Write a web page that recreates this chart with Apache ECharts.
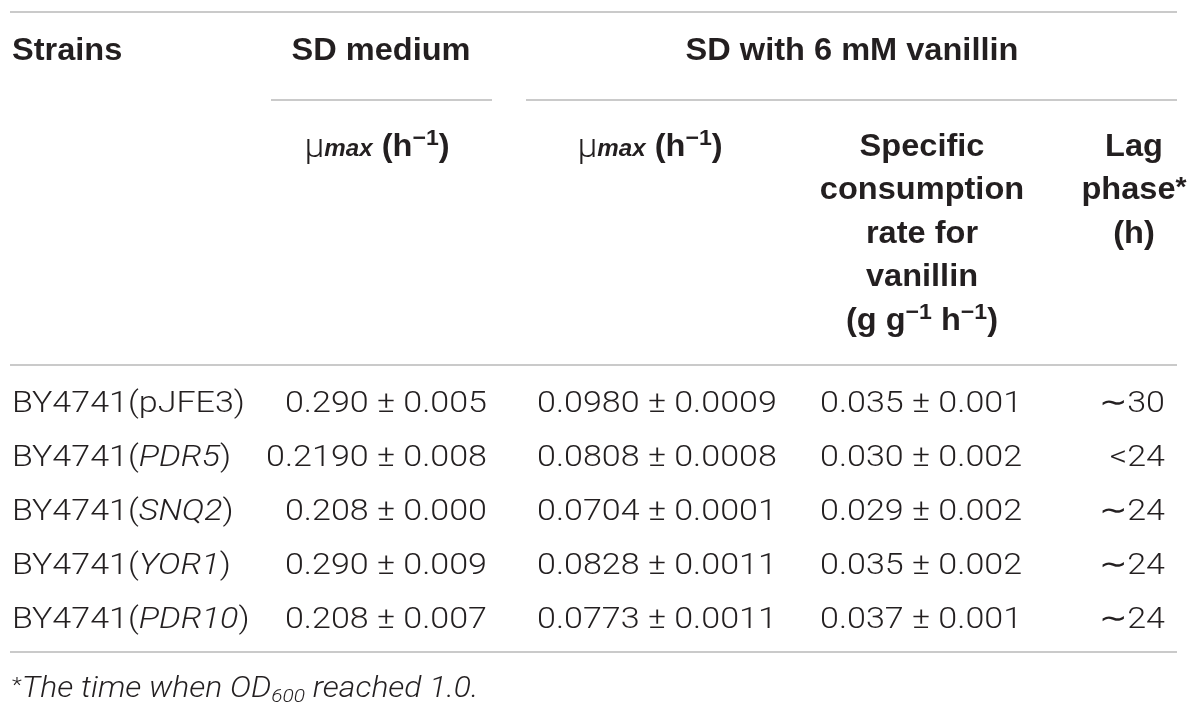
<!DOCTYPE html>
<html><head><meta charset="utf-8">
<script src="https://cdn.jsdelivr.net/npm/echarts@6/dist/echarts.min.js"></script>
<style>html,body{margin:0;padding:0;background:#fff}#c{width:1200px;height:721px}</style>
</head><body><div id="c"></div>
<script>
// ---------- DATA ----------
const strainBase = 'BY4741';
const strainGenes = ['pJFE3', 'PDR5', 'SNQ2', 'YOR1', 'PDR10'];
const geneItalic = [false, true, true, true, true];
const sdMuMax = ['0.290', '0.2190', '0.208', '0.290', '0.208'];
const sdMuMaxErr = ['0.005', '0.008', '0.000', '0.009', '0.007'];
const vanMuMax = ['0.0980', '0.0808', '0.0704', '0.0828', '0.0773'];
const vanMuMaxErr = ['0.0009', '0.0008', '0.0001', '0.0011', '0.0011'];
const vanRate = ['0.035', '0.030', '0.029', '0.035', '0.037'];
const vanRateErr = ['0.001', '0.002', '0.002', '0.002', '0.001'];
const lagPhase = ['\u223C30', '<24', '\u223C24', '\u223C24', '\u223C24'];
const groupHeaders = ['Strains', 'SD medium', 'SD with 6 mM vanillin'];
const rateHeaderLines = ['Specific', 'consumption', 'rate for', 'vanillin'];
const lagHeaderLines = ['Lag', 'phase{ast|*}', '(h)'];
const footnoteParts = ['*', 'The time when OD', '600', ' reached 1.0.'];

// ---------- LAYOUT / STYLE ----------
const W = 1200, H = 721;
const bodyFont = 'Roboto, "Liberation Sans", sans-serif';
const headFont = '"Liberation Sans", Arial, sans-serif';
const ink = '#231f20';
const ruleColor = '#b8b8b8';
const bodySize = 30, headSize = 31, footSize = 29;
const bodySX = 1.135, headSX = 1.05, footSX = 1.1;
const colX = { strain: 12, sd: 487, vanMu: 537, rate: 820, lag: 1165 };
const headX = { strains: 12, sd: 381, van: 852, sdMu: 377, vanMu: 650, rate: 922, lag: 1134 };
const rowY0 = 404, rowStep = 54;
const headY1 = 51, headY2 = 147, headStep = 43.6;
const footY = 690;
const rules = [
  { x1: 10, x2: 1177, y: 12 },
  { x1: 271, x2: 492, y: 100 },
  { x1: 526, x2: 1177, y: 100 },
  { x1: 10, x2: 1177, y: 365 },
  { x1: 10, x2: 1177, y: 652 }
];

const rich = {
  it: { fontStyle: 'italic', fontFamily: bodyFont, fontWeight: 300, fontSize: bodySize, fill: ink },
  hb: { fontFamily: headFont, fontWeight: 'bold', fontSize: headSize, fill: ink },
  ast: { fontFamily: headFont, fontWeight: 'bold', fontSize: 27, fill: ink, padding: [0, 0, 4, 0] },
  mu: { fontFamily: bodyFont, fontWeight: 300, fontSize: headSize + 3, fill: ink, padding: [3, 0, 0, 0] },
  mx: { fontFamily: headFont, fontWeight: 'bold', fontStyle: 'italic', fontSize: 23, fill: ink, padding: [5, 0, 0, 0] },
  sup: { fontFamily: headFont, fontWeight: 'bold', fontSize: 22, fill: ink, padding: [0, 0, 16, 0] },
  fit: { fontStyle: 'italic', fontFamily: bodyFont, fontWeight: 300, fontSize: footSize, fill: ink },
  fsub: { fontStyle: 'italic', fontFamily: bodyFont, fontWeight: 300, fontSize: 19, fill: ink, padding: [14, 0, 0, 0] },
  star: { fontFamily: bodyFont, fontWeight: 300, fontSize: 21, fill: ink, padding: [0, 0, 6, 0] }
};

const items = [];
function addText(x, y, text, align, kind) {
  items.push({ x: x, y: y, text: text, align: align, kind: kind });
}
const pm = ' \u00B1 ';
const muHead = '{mu|\u03BC}{mx|max}{hb| (h}{sup|\u22121}{hb|)}';

addText(headX.strains, headY1, groupHeaders[0], 'left', 'head');
addText(headX.sd, headY1, groupHeaders[1], 'center', 'head');
addText(headX.van, headY1, groupHeaders[2], 'center', 'head');
addText(headX.sdMu, headY2, muHead, 'center', 'head');
addText(headX.vanMu, headY2, muHead, 'center', 'head');
rateHeaderLines.forEach((t, i) => addText(headX.rate, headY2 + i * headStep, t, 'center', 'head'));
addText(headX.rate, headY2 + rateHeaderLines.length * headStep,
  '{hb|(g g}{sup|\u22121}{hb| h}{sup|\u22121}{hb|)}', 'center', 'head');
lagHeaderLines.forEach((t, i) => addText(headX.lag, headY2 + i * headStep, t, 'center', 'head'));
strainGenes.forEach((g, i) => {
  const y = rowY0 + i * rowStep;
  const gene = geneItalic[i] ? '{it|' + g + '}' : g;
  addText(colX.strain, y, strainBase + '(' + gene + ')', 'left', 'body');
  addText(colX.sd, y, sdMuMax[i] + pm + sdMuMaxErr[i], 'right', 'body');
  addText(colX.vanMu, y, vanMuMax[i] + pm + vanMuMaxErr[i], 'left', 'body');
  addText(colX.rate, y, vanRate[i] + pm + vanRateErr[i], 'left', 'body');
  addText(colX.lag, y, lagPhase[i], 'right', 'body');
});
addText(colX.strain, footY,
  '{star|' + footnoteParts[0] + '}{fit|' + footnoteParts[1] + '}{fsub|' + footnoteParts[2] + '}{fit|' + footnoteParts[3] + '}',
  'left', 'foot');

const kindStyle = {
  head: { fontFamily: headFont, fontWeight: 'bold', fontSize: headSize, sx: headSX },
  body: { fontFamily: bodyFont, fontWeight: 300, fontSize: bodySize, sx: bodySX },
  foot: { fontFamily: bodyFont, fontWeight: 300, fontSize: footSize, sx: footSX }
};

const series = rules.map(r => ({
  type: 'line', data: [[r.x1, r.y], [r.x2, r.y]], symbol: 'none', silent: true,
  lineStyle: { color: ruleColor, width: 1.6 }
}));
series.push({
  type: 'custom',
  silent: true,
  data: items.map(it => [it.x, it.y]),
  renderItem: function (params, api) {
    const it = items[params.dataIndex];
    const ks = kindStyle[it.kind];
    const p = api.coord([api.value(0), api.value(1)]);
    return {
      type: 'text',
      x: p[0], y: p[1],
      scaleX: ks.sx, scaleY: 1,
      style: {
        text: it.text,
        fill: ink,
        fontFamily: ks.fontFamily,
        fontWeight: ks.fontWeight,
        fontSize: ks.fontSize,
        align: it.align,
        verticalAlign: 'middle',
        rich: rich
      }
    };
  }
});

const chart = echarts.init(document.getElementById('c'));
chart.setOption({
  animation: false,
  backgroundColor: '#ffffff',
  grid: { left: 0, right: 0, top: 0, bottom: 0 },
  xAxis: { type: 'value', min: 0, max: W, show: false },
  yAxis: { type: 'value', min: 0, max: H, inverse: true, show: false },
  series: series
});
</script></body></html>
